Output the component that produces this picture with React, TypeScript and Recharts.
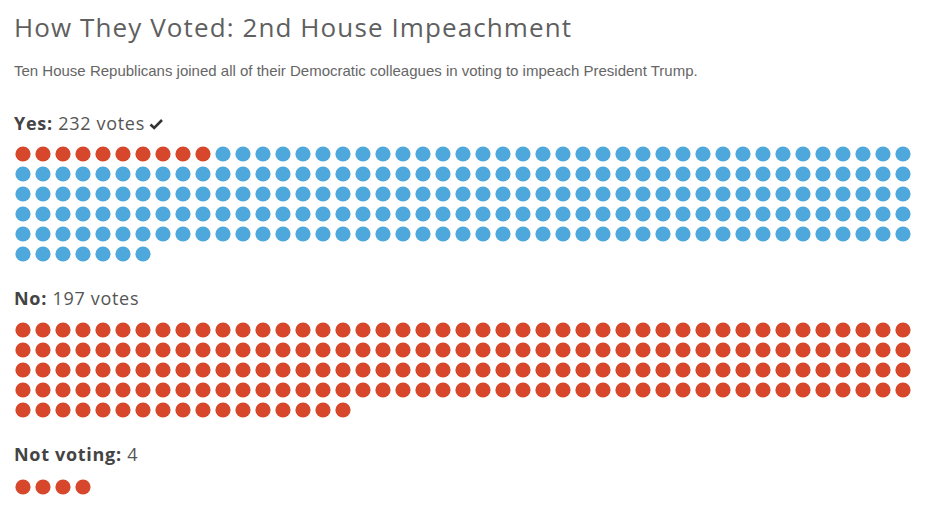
import { Scatter, ScatterChart, XAxis, YAxis } from 'recharts';

// vote tallies
const categories = ['Yes', 'No', 'Not voting'];
const republicans = [10, 197, 4];
const democrats = [222, 0, 0];
const countLabels = ['232 votes', '197 votes', '4'];
const passed = [true, false, false];

const PER_ROW = 45;
const STEP = 20;
const RED = '#d6472b';
const BLUE = '#4ea8dc';

// top y of each block's label and first dot row
const labelTops = [111, 286, 442];
const dotTops = [144, 320, 477];

type Dot = { col: number; row: number; party: 'R' | 'D' };

function buildDots(rep: number, dem: number): Dot[] {
  const out: Dot[] = [];
  const parties: ('R' | 'D')[] = [
    ...Array(rep).fill('R'),
    ...Array(dem).fill('D'),
  ];
  parties.forEach((party, i) => {
    out.push({ col: i % PER_ROW, row: Math.floor(i / PER_ROW), party });
  });
  return out;
}

function DotShape(props: any) {
  const { cx, cy, payload } = props;
  return <circle cx={cx} cy={cy} r={7.6} fill={payload.party === 'R' ? RED : BLUE} />;
}

function DotBlock({ index }: { index: number }) {
  const dots = buildDots(republicans[index], democrats[index]);
  const rows = Math.ceil(dots.length / PER_ROW);
  return (
    <div style={{ position: 'absolute', left: 0, top: dotTops[index] }}>
      <ScatterChart
        width={933}
        height={rows * STEP}
        margin={{ top: 0, right: 20, bottom: 0, left: 13 }}
      >
        <XAxis type="number" dataKey="col" domain={[-0.5, PER_ROW - 0.5]} hide />
        <YAxis type="number" dataKey="row" domain={[-0.5, rows - 0.5]} reversed hide />
        <Scatter data={dots} shape={DotShape} isAnimationActive={false} />
      </ScatterChart>
    </div>
  );
}

function Check() {
  return (
    <svg width="15" height="12" viewBox="0 0 15 12" style={{ marginLeft: 4, verticalAlign: 0 }}>
      <path d="M1.5 6.5 L5.2 10 L13 2" stroke="#333" strokeWidth="2.6" fill="none" />
    </svg>
  );
}

export default function App() {
  return (
    <div
      style={{
        position: 'absolute',
        left: 0,
        top: 0,
        width: 933,
        height: 505,
        background: '#fff',
        fontFamily: '"Open Sans", Lato, sans-serif',
      }}
    >
      <div
        style={{
          position: 'absolute',
          left: 14,
          top: 11,
          fontSize: 26,
          lineHeight: '32px',
          letterSpacing: 1.1,
          color: '#5f5f5f',
          whiteSpace: 'nowrap',
        }}
      >
        How They Voted: 2nd House Impeachment
      </div>
      <div
        style={{
          position: 'absolute',
          left: 14,
          top: 62,
          fontSize: 15,
          lineHeight: '18px',
          color: '#666',
          whiteSpace: 'nowrap',
          fontFamily: '"Liberation Sans", Arial, sans-serif',
        }}
      >
        Ten House Republicans joined all of their Democratic colleagues in voting to impeach President Trump.
      </div>
      {categories.map((cat, i) => (
        <div
          key={cat}
          style={{
            position: 'absolute',
            left: 14,
            top: labelTops[i],
            fontSize: 18,
            lineHeight: '24px',
            letterSpacing: 0.7,
            color: '#555',
            whiteSpace: 'nowrap',
          }}
        >
          <b style={{ color: '#444' }}>{cat}:</b> {countLabels[i]}
          {passed[i] && <Check />}
        </div>
      ))}
      {categories.map((cat, i) => (
        <DotBlock key={cat} index={i} />
      ))}
    </div>
  );
}
